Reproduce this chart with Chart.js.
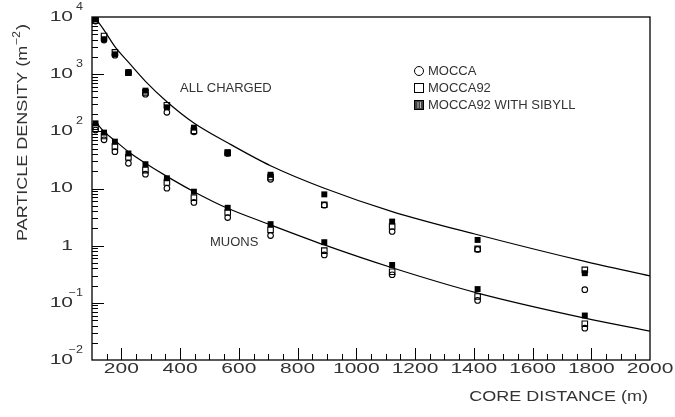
<!DOCTYPE html>
<html>
<head>
<meta charset="utf-8">
<script src="https://cdn.jsdelivr.net/npm/chart.js@4.4.1/dist/chart.umd.min.js"></script>
<style>
  body { margin: 0; background: #fff; }
  canvas { display: block; }
</style>
</head>
<body>
<canvas id="densityChart" width="675" height="417"></canvas>
<script>
// core distances (m) of the simulated points
const coreDistance = [112, 141, 178, 224, 282, 355, 447, 562, 708, 891, 1122, 1413, 1778];

// all charged particles (m^-2)
const chargedMocca = [8500, 3950, 2150, 1060, 445, 215, 98, 41, 14.5, 5.1, 1.77, 0.86, 0.17];
const chargedMocca92 = [8700, 4650, 2400, 1060, 480, 286, 102, 42, 15.8, 5.2, 2.16, 0.88, 0.377];
const chargedSibyll = [9100, 4080, 2220, 1080, 515, 263, 116, 43, 17.4, 7.9, 2.64, 1.26, 0.33];

// muons (m^-2)
const muonMocca = [105, 71, 44, 27.6, 17.8, 10.1, 5.7, 3.1, 1.5, 0.69, 0.31, 0.11, 0.036];
const muonMocca92 = [120, 83, 54, 35, 21, 12.7, 6.9, 3.8, 1.89, 0.82, 0.35, 0.129, 0.043];
const muonSibyll = [138, 95, 66, 41, 26.6, 15.1, 8.8, 4.6, 2.38, 1.15, 0.46, 0.174, 0.06];

// fitted curves
const fitDistance = [112, 141, 178, 224, 282, 355, 447, 562, 708, 891, 1122, 1413, 1778, 2000];
const chargedFit = [9500, 5900, 3030, 1620, 750, 330, 140, 63, 25, 10.1, 3.95, 1.55, 0.53, 0.295];
const muonFit = [148, 99, 69, 44, 27.7, 16.3, 8.8, 4.5, 2.31, 1.03, 0.41, 0.148, 0.054, 0.032];

// axis labels
const xTickLabels = [200, 400, 600, 800, 1000, 1200, 1400, 1600, 1800, 2000];
const yDecades = [-2, -1, 0, 1, 2, 3, 4];

const pts = (ys, xs) => ys.map((v, i) => ({ x: (xs || coreDistance)[i], y: v }));

const FONT = '"Liberation Sans", Arial, sans-serif';
const INK = '#333';

function wideText(ctx, str, x, y, size, sx, align) {
    ctx.save();
    ctx.font = `${size}px ${FONT}`;
    ctx.textBaseline = 'middle';
    ctx.textAlign = 'left';
    const w = ctx.measureText(str).width * sx;
    const left = align === 'right' ? x - w : align === 'center' ? x - w / 2 : x;
    ctx.translate(left, y);
    ctx.scale(sx, 1);
    ctx.fillText(str, 0, 0);
    ctx.restore();
    return w;
}

function seg(ctx, x1, y1, x2, y2) {
    ctx.beginPath();
    ctx.moveTo(x1, y1);
    ctx.lineTo(x2, y2);
    ctx.stroke();
}

const frame = {
    id: 'frame',
    afterDraw(chart) {
        const { ctx, chartArea: a, scales: { x, y } } = chart;
        ctx.save();
        ctx.strokeStyle = '#000';
        ctx.fillStyle = INK;
        ctx.lineWidth = 1.3;
        ctx.strokeRect(a.left, a.top, a.right - a.left, a.bottom - a.top);

        // x ticks point inward
        ctx.lineWidth = 1;
        for (let v = 150; v < 2000; v += 50) {
            const px = Math.round(x.getPixelForValue(v)) + 0.5;
            seg(ctx, px, a.bottom, px, a.bottom - (v % 200 === 0 ? 12 : 6));
        }
        xTickLabels.forEach(v => {
            wideText(ctx, String(v), x.getPixelForValue(v), a.bottom + 9, 14, 1.5, 'center');
        });

        // y ticks: decades and 2..9
        yDecades.forEach(e => {
            const py = Math.round(y.getPixelForValue(Math.pow(10, e))) + 0.5;
            if (e > -2 && e < 4) seg(ctx, a.left, py, a.left + 12, py);
            if (e < 4) {
                for (let m = 2; m < 10; m++) {
                    const my = Math.round(y.getPixelForValue(m * Math.pow(10, e))) + 0.5;
                    seg(ctx, a.left, my, a.left + 6, my);
                }
            }
            const ly = y.getPixelForValue(Math.pow(10, e));
            if (e === 0) {
                wideText(ctx, '1', 73, ly, 14, 1.5, 'right');
            } else {
                wideText(ctx, '10', 73, ly, 14, 1.5, 'right');
                if (e !== 1) {
                    const exp = e < 0 ? '\u2212' + (-e) : String(e);
                    wideText(ctx, exp, 83, ly - 10, 10, 1.25, 'right');
                }
            }
        });

        // axis titles
        wideText(ctx, 'CORE DISTANCE (m)', 648, 397, 15, 1.2, 'right');
        ctx.save();
        ctx.translate(23, 241);
        ctx.rotate(-Math.PI / 2);
        let w = wideText(ctx, 'PARTICLE DENSITY (m', 0, 0, 15, 1.2, 'left');
        w += wideText(ctx, '\u22122', w + 1, -6, 10, 1.2, 'left');
        wideText(ctx, ')', w + 2, 0, 15, 1.2, 'left');
        ctx.restore();

        // curve labels
        wideText(ctx, 'ALL CHARGED', 180, 88, 13, 1.0, 'left');
        wideText(ctx, 'MUONS', 210, 242, 13, 1.0, 'left');

        // legend
        ctx.lineWidth = 1;
        ctx.beginPath();
        ctx.arc(419, 71, 4.5, 0, Math.PI * 2);
        ctx.stroke();
        ctx.strokeRect(414.5, 83.5, 9, 9);
        ctx.fillStyle = '#444';
        ctx.fillRect(414.5, 100.5, 9, 9);
        ctx.strokeRect(414.5, 100.5, 9, 9);
        ctx.strokeStyle = '#bbb';
        seg(ctx, 418, 102, 418, 108);
        seg(ctx, 420.5, 102, 420.5, 108);
        ctx.fillStyle = INK;
        wideText(ctx, 'MOCCA', 428, 71, 13, 1.0, 'left');
        wideText(ctx, 'MOCCA92', 428, 88, 13, 1.0, 'left');
        wideText(ctx, 'MOCCA92 WITH SIBYLL', 428, 105, 13, 1.0, 'left');
        ctx.restore();
    }
};

const filled = data => ({
    type: 'scatter', data, pointStyle: 'rect', pointRadius: 4.2,
    backgroundColor: '#000', borderColor: '#000', borderWidth: 0
});
const openSquare = data => ({
    type: 'scatter', data, pointStyle: 'rect', pointRadius: 3.9,
    backgroundColor: 'rgba(0,0,0,0)', borderColor: '#000', borderWidth: 1.1
});
const openCircle = data => ({
    type: 'scatter', data, pointStyle: 'circle', pointRadius: 2.8,
    backgroundColor: 'rgba(0,0,0,0)', borderColor: '#000', borderWidth: 1.1
});
const fitLine = data => ({
    type: 'line', data, borderColor: '#000', borderWidth: 1.2,
    pointRadius: 0, cubicInterpolationMode: 'monotone', fill: false
});

new Chart(document.getElementById('densityChart'), {
    type: 'scatter',
    data: {
        datasets: [
            filled(pts(chargedSibyll)),
            filled(pts(muonSibyll)),
            openSquare(pts(chargedMocca92)),
            openSquare(pts(muonMocca92)),
            openCircle(pts(chargedMocca)),
            openCircle(pts(muonMocca)),
            fitLine(pts(chargedFit, fitDistance)),
            fitLine(pts(muonFit, fitDistance))
        ]
    },
    options: {
        responsive: false,
        animation: false,
        layout: { padding: { left: 92, right: 25, top: 17, bottom: 57 } },
        scales: {
            x: { type: 'linear', min: 100, max: 2000, display: false },
            y: { type: 'logarithmic', min: 0.01, max: 10000, display: false }
        },
        plugins: {
            legend: { display: false },
            tooltip: { enabled: false }
        }
    },
    plugins: [frame]
});
</script>
</body>
</html>
